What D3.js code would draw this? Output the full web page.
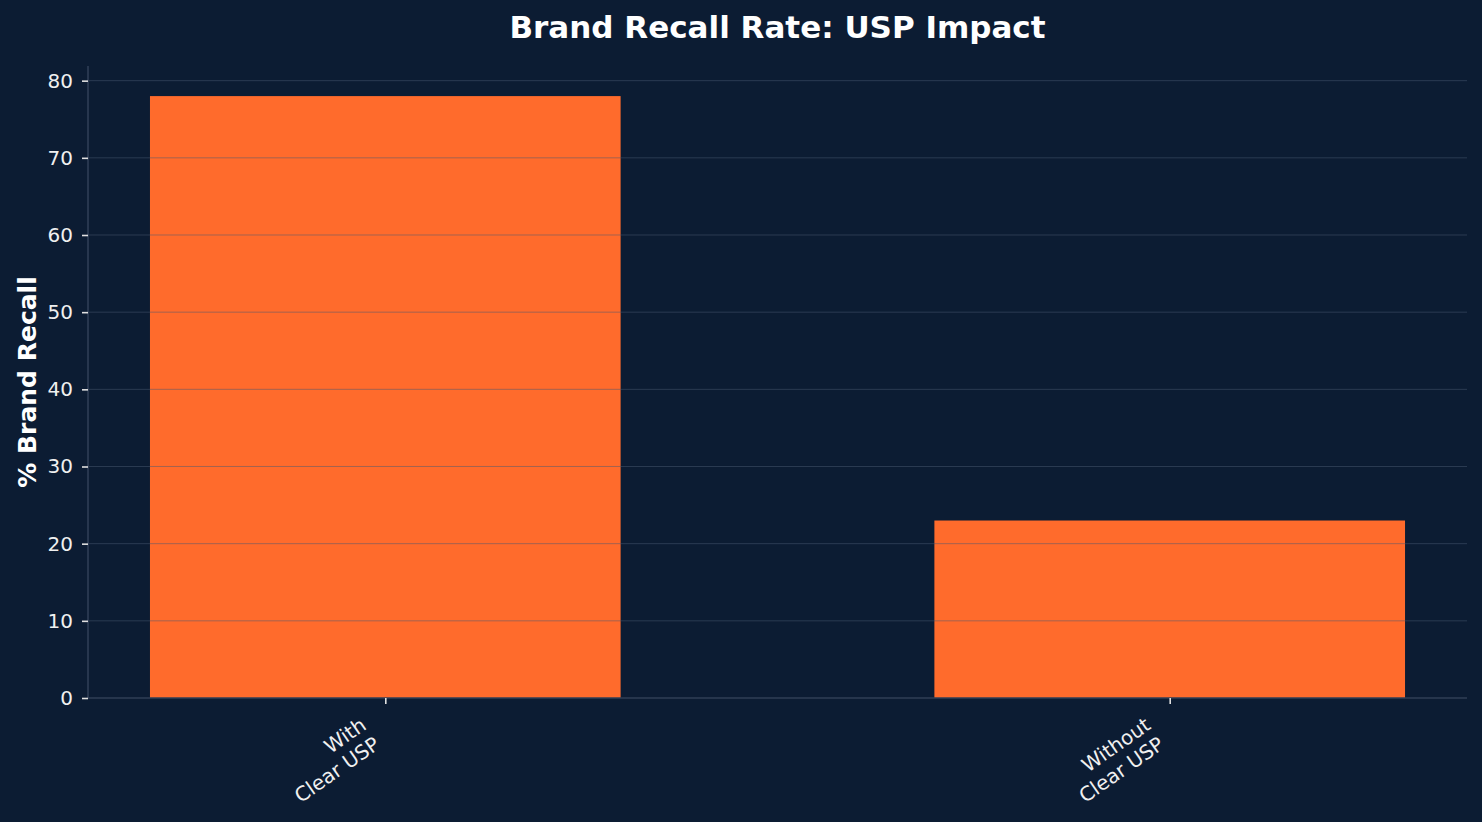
<!DOCTYPE html>
<html>
<head>
<meta charset="utf-8">
<script src="https://cdn.jsdelivr.net/npm/d3@7"></script>
<style>
  html, body { margin: 0; padding: 0; background: #0c1c33; }
  svg { display: block; font-family: "DejaVu Sans", sans-serif; }
</style>
</head>
<body>
<div id="container"></div>
<script>
// chart data
var categories = ["With\nClear USP", "Without\nClear USP"];
var recall = [78, 23];
var yTicks = [0, 10, 20, 30, 40, 50, 60, 70, 80];

var width = 1482, height = 822;
var mLeft = 88, mRight = 1467, mTop = 66, mBottom = 698;
var bg = "#0c1c33", barColor = "#ff6b2c", textColor = "#f0f0f0";

var svg = d3.select("#container").append("svg")
    .attr("width", width)
    .attr("height", height);

svg.append("rect").attr("width", width).attr("height", height).attr("fill", bg);

var x = d3.scaleLinear()
    .domain([-0.379, categories.length - 1 + 0.379])
    .range([mLeft, mRight]);

var y = d3.scaleLinear()
    .domain([0, 81.9])
    .range([mBottom, mTop]);

var barW = x(0.3) - x(-0.3);

// bars
svg.selectAll("rect.bar")
  .data(recall)
  .enter().append("rect")
    .attr("class", "bar")
    .attr("x", function(d, i) { return x(i) - barW / 2; })
    .attr("y", function(d) { return y(d); })
    .attr("width", barW)
    .attr("height", function(d) { return y(0) - y(d); })
    .attr("fill", barColor);

// grid (drawn above bars like the original)
svg.append("g")
  .selectAll("line")
  .data(yTicks.filter(function(d) { return d > 0; }))
  .enter().append("line")
    .attr("x1", mLeft).attr("x2", mRight)
    .attr("y1", function(d) { return y(d); })
    .attr("y2", function(d) { return y(d); })
    .attr("stroke", "#4a5a72")
    .attr("stroke-opacity", 0.5)
    .attr("stroke-width", 1);

// y axis
var yAxis = svg.append("g")
    .attr("transform", "translate(" + mLeft + ",0)")
    .call(d3.axisLeft(y).tickValues(yTicks).tickSize(6).tickPadding(9));
yAxis.select(".domain").attr("stroke", "#2f3e56").attr("stroke-width", 1.6)
    .attr("d", "M0," + mTop + "V" + mBottom);
yAxis.selectAll(".tick line").attr("stroke", "#e0e0e0").attr("stroke-width", 1.6);
yAxis.selectAll(".tick text").attr("fill", textColor)
    .style("font-size", "20px").style("font-family", "DejaVu Sans");

// x axis
var xAxis = svg.append("g")
    .attr("transform", "translate(0," + mBottom + ")")
    .call(d3.axisBottom(x).tickValues(d3.range(categories.length)).tickSize(6).tickFormat(""));
xAxis.select(".domain").attr("stroke", "#2f3e56").attr("stroke-width", 1.6)
    .attr("d", "M" + mLeft + ",0H" + mRight);
xAxis.selectAll(".tick line").attr("stroke", "#e0e0e0").attr("stroke-width", 1.6);

// rotated multi-line category labels, right aligned
var fs = 20, ang = 35, lineH = fs * 1.17;
var rad = ang * Math.PI / 180;
var blockH = lineH * 2;
categories.forEach(function(c, i) {
  var lines = c.split("\n");
  var g = svg.append("g")
      .attr("transform", "translate(" + (x(i) - blockH * Math.sin(rad)) + "," + (mBottom + 17) + ") rotate(" + (-ang) + ")");
  var t = g.append("text")
      .attr("text-anchor", "end")
      .attr("fill", textColor)
      .style("font-size", fs + "px");
  lines.forEach(function(l, k) {
    t.append("tspan").attr("x", 0).attr("y", fs * 0.8 + k * lineH).text(l);
  });
});

// title
svg.append("text")
    .attr("x", (mLeft + mRight) / 2)
    .attr("y", 38)
    .attr("text-anchor", "middle")
    .attr("fill", "#ffffff")
    .style("font-size", "31px")
    .style("font-weight", "bold")
    .text("Brand Recall Rate: USP Impact");

// y label
svg.append("text")
    .attr("transform", "translate(36," + ((mTop + mBottom) / 2) + ") rotate(-90)")
    .attr("text-anchor", "middle")
    .attr("fill", "#ffffff")
    .style("font-size", "25px")
    .style("font-weight", "bold")
    .text("% Brand Recall");
</script>
</body>
</html>
